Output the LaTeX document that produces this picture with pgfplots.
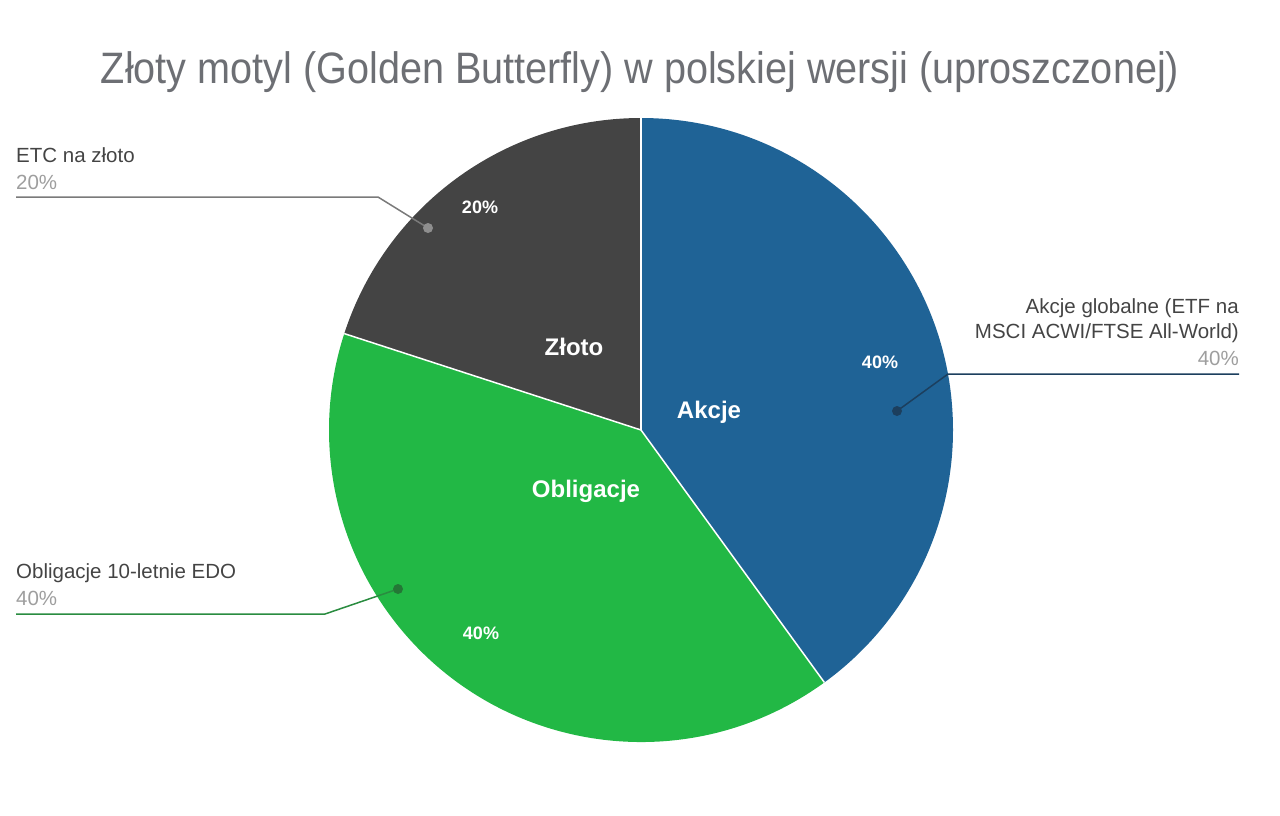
\documentclass[border=0pt]{standalone}
\usepackage{pgfplots}
\pgfplotsset{compat=1.18}
\usepackage{fontspec}
\setmainfont{Liberation Sans}
\newfontfamily\titlefont[FakeStretch=0.9]{Liberation Sans}
\definecolor{cAkcje}{HTML}{1F6396}
\definecolor{cObl}{HTML}{22B845}
\definecolor{cZloto}{HTML}{444444}
\definecolor{cTitle}{HTML}{6D6F74}
\definecolor{cLab}{HTML}{444444}
\definecolor{cPct}{HTML}{9E9E9E}
\definecolor{lZloto}{HTML}{7A7A7A}
\definecolor{lAkcje}{HTML}{1C3F5E}
\definecolor{lObl}{HTML}{2A8C40}
% slice values (percent)
\def\vAkcje{40}
\def\vObl{40}
\def\vZloto{20}
\begin{document}
\begin{tikzpicture}
\begin{axis}[width=1280pt,height=815pt,scale only axis,
  xmin=0,xmax=1280,ymin=0,ymax=815,y dir=reverse,hide axis,clip=false]
\path (axis cs:0,0) (axis cs:1280,815);
\pgfmathsetmacro\aA{90-3.6*\vAkcje}
\pgfmathsetmacro\aB{\aA-3.6*\vObl}
\pgfmathsetmacro\aC{\aB-3.6*\vZloto}
\fill[cAkcje] (axis cs:641,430) -- ++(90:312pt) arc[start angle=90,end angle=\aA,radius=312pt] -- cycle;
\fill[cObl] (axis cs:641,430) -- ++(\aA:312pt) arc[start angle=\aA,end angle=\aB,radius=312pt] -- cycle;
\fill[cZloto] (axis cs:641,430) -- ++(\aB:312pt) arc[start angle=\aB,end angle=\aC,radius=312pt] -- cycle;
\draw[white,line width=1.5pt] (axis cs:641,430) -- ++(90:312pt);
\draw[white,line width=1.5pt] (axis cs:641,430) -- ++(\aA:312pt);
\draw[white,line width=1.5pt] (axis cs:641,430) -- ++(\aB:312pt);
% leader lines
\draw[lZloto,line width=1.5pt] (axis cs:16,197) -- (axis cs:378,197) -- (axis cs:428,228);
\fill[lZloto!85!white] (axis cs:428,228) circle[radius=5pt];
\draw[lAkcje,line width=1.5pt] (axis cs:1239,374) -- (axis cs:948,374) -- (axis cs:897,411);
\fill[lAkcje] (axis cs:897,411) circle[radius=5pt];
\draw[lObl,line width=1.5pt] (axis cs:16,614) -- (axis cs:325,614) -- (axis cs:398,589);
\fill[lObl!85!black] (axis cs:398,589) circle[radius=5pt];
% title
\node[anchor=base,text=cTitle,inner sep=0pt,font=\titlefont\fontsize{44}{52}\selectfont] at (axis cs:640,83) {Złoty motyl (Golden Butterfly) w polskiej wersji (uproszczonej)};
% side labels
\node[anchor=base west,text=cLab,inner sep=0pt,font=\fontsize{20.5}{24}\selectfont] at (axis cs:16,162) {ETC na złoto};
\node[anchor=base west,text=cPct,inner sep=0pt,font=\fontsize{20.5}{24}\selectfont] at (axis cs:16,189) {20\%};
\node[anchor=base east,text=cLab,inner sep=0pt,font=\fontsize{20.5}{24}\selectfont] at (axis cs:1239,313) {Akcje globalne (ETF na};
\node[anchor=base east,text=cLab,inner sep=0pt,font=\fontsize{20.5}{24}\selectfont] at (axis cs:1239,338) {MSCI ACWI/FTSE All-World)};
\node[anchor=base east,text=cPct,inner sep=0pt,font=\fontsize{20.5}{24}\selectfont] at (axis cs:1239,365) {40\%};
\node[anchor=base west,text=cLab,inner sep=0pt,font=\fontsize{20.5}{24}\selectfont] at (axis cs:16,578) {Obligacje 10-letnie EDO};
\node[anchor=base west,text=cPct,inner sep=0pt,font=\fontsize{20.5}{24}\selectfont] at (axis cs:16,605) {40\%};
% slice labels
\node[anchor=base,text=white,inner sep=0pt,font=\bfseries\fontsize{24}{28}\selectfont] at (axis cs:574,355) {Złoto};
\node[anchor=base,text=white,inner sep=0pt,font=\bfseries\fontsize{24}{28}\selectfont] at (axis cs:709,418) {Akcje};
\node[anchor=base,text=white,inner sep=0pt,font=\bfseries\fontsize{24}{28}\selectfont] at (axis cs:586,497) {Obligacje};
\node[anchor=base,text=white,inner sep=0pt,font=\bfseries\fontsize{18}{22}\selectfont] at (axis cs:480,213) {20\%};
\node[anchor=base,text=white,inner sep=0pt,font=\bfseries\fontsize{18}{22}\selectfont] at (axis cs:880,368) {40\%};
\node[anchor=base,text=white,inner sep=0pt,font=\bfseries\fontsize{18}{22}\selectfont] at (axis cs:481,639) {40\%};
\end{axis}
\end{tikzpicture}
\end{document}
